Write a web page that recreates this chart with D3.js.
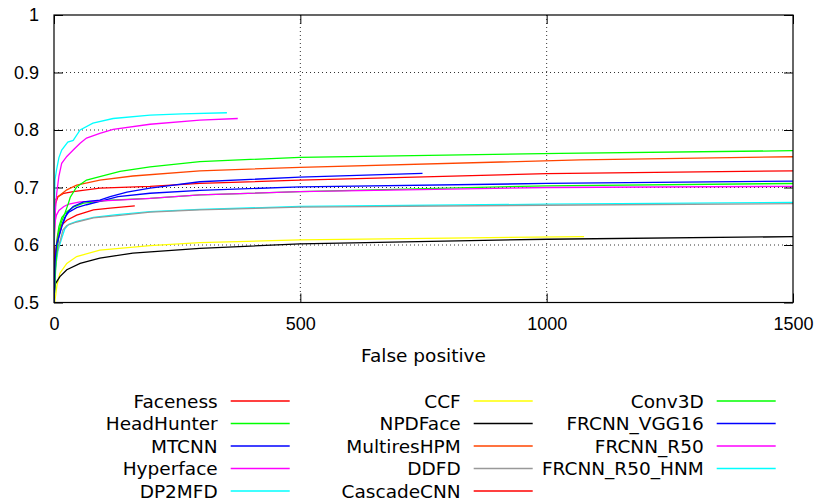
<!DOCTYPE html>
<html>
<head>
<meta charset="UTF-8">
<title>FDDB ROC</title>
<script src="https://cdn.jsdelivr.net/npm/d3@7"></script>
<style>
  body { margin: 0; background: #fff; }
  svg { display: block; font-family: "DejaVu Sans", sans-serif; }
  .tick text { font-size: 18px; fill: #000; }
</style>
</head>
<body>
<svg id="chart" width="822" height="501"></svg>
<script>
// [false positives, true positive rate]
var faceness    = [[0,0.56],[1,0.62],[2,0.65],[3,0.672],[8,0.684],[20,0.69],[39,0.693],[93,0.699],[195,0.702],[296,0.707],[499,0.713],[1000,0.724],[1500,0.729]]
var headHunter  = [[0,0.5],[3,0.58],[6,0.61],[10,0.632],[16,0.648],[26,0.658],[39,0.666],[60,0.673],[114,0.678],[195,0.681],[296,0.687],[499,0.693],[1000,0.703],[1500,0.707]]
var mtcnn       = [[0,0.5],[2,0.56],[5,0.59],[10,0.615],[16,0.635],[22,0.648],[30,0.657],[46,0.665],[66,0.67],[93,0.676],[130,0.684],[195,0.69],[296,0.695],[499,0.701],[1000,0.707],[1500,0.711]]
var hyperface   = [[0,0.58],[1,0.625],[2,0.64],[5,0.652],[10,0.66],[20,0.667],[30,0.671],[53,0.675],[130,0.678],[195,0.681],[296,0.687],[499,0.693],[1000,0.7],[1500,0.702]]
var dp2mfd      = [[0,0.5],[3,0.56],[8,0.59],[15,0.61],[22,0.628],[30,0.636],[46,0.641],[80,0.648],[128,0.653],[195,0.658],[296,0.662],[499,0.667],[1000,0.671],[1500,0.674]]
var ccf         = [[0,0.48],[2,0.504],[6,0.53],[12,0.551],[26,0.568],[46,0.58],[93,0.591],[195,0.599],[296,0.604],[499,0.609],[800,0.612],[1076,0.6145]]
var npdFace     = [[0,0.5],[1,0.52],[3,0.533],[12,0.545],[26,0.557],[53,0.568],[93,0.577],[160,0.586],[296,0.594],[499,0.602],[1000,0.61],[1500,0.6145]]
var multiresHPM = [[0,0.58],[1,0.665],[2,0.678],[8,0.684],[26,0.696],[46,0.704],[93,0.713],[160,0.72],[296,0.729],[499,0.735],[1068,0.748],[1500,0.7535]]
var ddfd        = [[0,0.5],[3,0.56],[6,0.585],[10,0.6],[14,0.612],[18,0.626],[26,0.634],[46,0.64],[80,0.647],[128,0.651],[195,0.657],[296,0.661],[499,0.666],[1068,0.6696],[1500,0.672]]
var cascadeCNN  = [[0,0.5],[2,0.58],[9,0.62],[16,0.635],[26,0.643],[46,0.652],[80,0.661],[114,0.664],[164,0.668]]
var conv3D      = [[0,0.5],[4,0.57],[9,0.62],[15,0.64],[22,0.655],[29,0.672],[33,0.683],[46,0.701],[66,0.713],[93,0.719],[134,0.728],[195,0.736],[296,0.745],[499,0.7525],[1027,0.7595],[1500,0.764]]
var frcnnVGG16  = [[0,0.5],[2,0.57],[5,0.6],[9,0.612],[16,0.632],[26,0.655],[39,0.667],[60,0.675],[93,0.678],[114,0.684],[148,0.692],[195,0.699],[296,0.71],[499,0.718],[748,0.7247]]
var frcnnR50    = [[0,0.6],[2,0.65],[5.5,0.69],[10,0.72],[15.6,0.742],[26,0.754],[40,0.766],[53,0.777],[66,0.786],[93,0.794],[120,0.801],[195,0.81],[296,0.817],[373,0.82]]
var frcnnR50HNM = [[0,0.6],[1,0.68],[2,0.713],[5,0.73],[10,0.752],[15.6,0.765],[28,0.779],[39,0.782],[53,0.8],[79,0.812],[120,0.82],[195,0.826],[260,0.828],[351,0.83]]

var names  = ["Faceness","HeadHunter","MTCNN","Hyperface","DP2MFD","CCF","NPDFace","MultiresHPM","DDFD","CascadeCNN","Conv3D","FRCNN_VGG16","FRCNN_R50","FRCNN_R50_HNM"]
var curves = [faceness,headHunter,mtcnn,hyperface,dp2mfd,ccf,npdFace,multiresHPM,ddfd,cascadeCNN,conv3D,frcnnVGG16,frcnnR50,frcnnR50HNM]
var colors = ["#ff0000","#00ff00","#0000ff","#ff00ff","#00ffff","#ffff00","#000000","#ff4500","#999999","#ff0000","#00ff00","#0000ff","#ff00ff","#00ffff"]

var xTicks = [0, 500, 1000, 1500]
var yTicks = [0.5, 0.6, 0.7, 0.8, 0.9, 1]

function draw() {
  var svg = d3.select("#chart")
  // note: "top" is window.top, so the plot box gets its own names
  var pL = 54, pR = 793, pT = 15, pB = 302.5

  var x = d3.scaleLinear().domain([0, 1500]).range([pL, pR])
  var y = d3.scaleLinear().domain([0.5, 1]).range([pB, pT])

  svg.append("defs").append("clipPath").attr("id", "plotClip")
    .append("rect").attr("x", pL).attr("y", pT).attr("width", pR - pL).attr("height", pB - pT)

  // dotted grid
  var grid = svg.append("g").attr("stroke", "#333").attr("stroke-width", 1).attr("stroke-dasharray", "1,3")
  grid.selectAll(".gy").data(yTicks.slice(1, -1)).enter().append("line")
    .attr("x1", pL).attr("x2", pR).attr("y1", y).attr("y2", y)
  grid.selectAll(".gx").data(xTicks.slice(1, -1)).enter().append("line")
    .attr("y1", pT).attr("y2", pB).attr("x1", x).attr("x2", x)

  // inside ticks, mirrored on right and top
  var fmtY = function(d) { return d === 1 ? "1" : d3.format(".1f")(d) }
  svg.append("g").attr("transform", "translate(" + pL + ",0)")
    .call(d3.axisLeft(y).tickValues(yTicks).tickFormat(fmtY).tickSizeInner(-9).tickSizeOuter(0).tickPadding(15))
  svg.append("g").attr("transform", "translate(" + pR + ",0)")
    .call(d3.axisRight(y).tickValues(yTicks).tickFormat("").tickSizeInner(-9).tickSizeOuter(0))
  svg.append("g").attr("transform", "translate(0," + pB + ")")
    .call(d3.axisBottom(x).tickValues(xTicks).tickFormat(d3.format("d")).tickSizeInner(-9).tickSizeOuter(0).tickPadding(15))
  svg.append("g").attr("transform", "translate(0," + pT + ")")
    .call(d3.axisTop(x).tickValues(xTicks).tickFormat("").tickSizeInner(-9).tickSizeOuter(0))
  svg.selectAll(".domain").remove()
  svg.selectAll(".tick line").attr("stroke", "#000")

  // curves
  var line = d3.line().x(function(d) { return x(d[0]) }).y(function(d) { return y(d[1]) })
  svg.append("g").attr("clip-path", "url(#plotClip)")
    .selectAll("path").data(curves).enter().append("path")
    .attr("d", line).attr("fill", "none")
    .attr("stroke", function(d, i) { return colors[i] })
    .attr("stroke-width", 1.3)

  // border
  svg.append("rect").attr("x", pL).attr("y", pT).attr("width", pR - pL).attr("height", pB - pT)
    .attr("fill", "none").attr("stroke", "#000").attr("stroke-width", 1.2)

  svg.append("text").attr("x", (pL + pR) / 2).attr("y", 362).attr("text-anchor", "middle")
    .style("font-size", "18.5px").text("False positive")

  // legend, filled column by column
  var legend = svg.append("g").selectAll("g").data(names).enter().append("g")
    .attr("transform", function(d, i) {
      return "translate(" + (217.7 + Math.floor(i / 5) * 243) + "," + (401 + (i % 5) * 22.5) + ")"
    })
  legend.append("text").attr("text-anchor", "end").attr("dy", "0.36em")
    .style("font-size", "18.5px").text(function(d) { return d })
  legend.append("line").attr("x1", 13).attr("x2", 72)
    .attr("stroke", function(d, i) { return colors[i] }).attr("stroke-width", 1.3)
}
draw()
</script>
</body>
</html>
